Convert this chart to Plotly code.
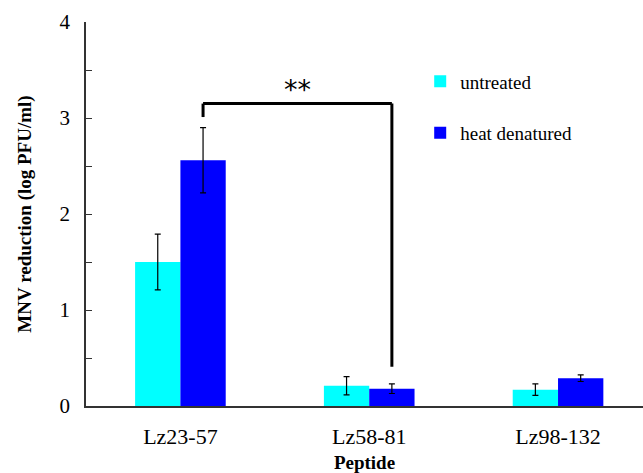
import plotly.graph_objects as go

categories = ["Lz23-57", "Lz58-81", "Lz98-132"]
untreated = [1.50, 0.21, 0.17]
untreated_err = [0.29, 0.095, 0.06]
heat = [2.56, 0.18, 0.29]
heat_err = [0.34, 0.05, 0.035]
y_ticks = [0, 1, 2, 3, 4]

# significance bracket between heat-denatured Lz23-57 and Lz58-81
bracket_top = 3.15
bracket_left_end = 3.01
bracket_right_end = 0.41
sig_label = "**"

SERIF = "Liberation Serif, Times New Roman, serif"
bargap = 0.52
bar_w = (1 - bargap) / 2

fig = go.Figure()
fig.add_trace(go.Bar(
    name="untreated", x=categories, y=untreated,
    marker=dict(color="#00FFFF", line=dict(width=0)),
    error_y=dict(type="data", array=untreated_err, color="black", thickness=1.2, width=3),
    legendgroup="a",
))
fig.add_trace(go.Bar(
    name="heat denatured", x=categories, y=heat,
    marker=dict(color="#0000FF", line=dict(width=0)),
    error_y=dict(type="data", array=heat_err, color="black", thickness=1.2, width=3),
    legendgroup="b",
))

x_left = 0 + bar_w / 2
x_right = 1 + bar_w / 2
line = dict(color="black", width=3)
fig.add_shape(type="line", xref="x", yref="y", x0=x_left, x1=x_left, y0=bracket_left_end, y1=bracket_top, line=line)
fig.add_shape(type="line", xref="x", yref="y", x0=x_left, x1=x_right, y0=bracket_top, y1=bracket_top, line=line)
fig.add_shape(type="line", xref="x", yref="y", x0=x_right, x1=x_right, y0=bracket_top, y1=bracket_right_end, line=line)
fig.add_annotation(x=(x_left + x_right) / 2, y=bracket_top, xref="x", yref="y",
                   text=sig_label, showarrow=False, yanchor="bottom", yshift=-3,
                   font=dict(family="DejaVu Sans", size=27, color="black"))

fig.update_layout(
    width=643, height=473,
    margin=dict(l=86, r=0, t=22, b=67),
    plot_bgcolor="white", paper_bgcolor="white",
    barmode="group", bargap=bargap, bargroupgap=0,
    font=dict(family=SERIF, color="black"),
    legend=dict(x=0.6, y=0.895, xanchor="left", yanchor="top",
                font=dict(family=SERIF, size=19, color="black"),
                tracegroupgap=24, itemwidth=30, bgcolor="rgba(0,0,0,0)"),
    xaxis=dict(range=[-0.5, 2.45], showline=True, linecolor="#333333", linewidth=1.5,
               ticks="", tickfont=dict(family=SERIF, size=22), ticklabelstandoff=10,
               title=dict(text="<b>Peptide</b>", font=dict(family=SERIF, size=19), standoff=9)),
    yaxis=dict(range=[0, 4], showline=True, linecolor="#333333", linewidth=1.5,
               showgrid=False, zeroline=False,
               tickvals=y_ticks, ticks="inside", ticklen=6, tickcolor="#333333",
               minor=dict(dtick=0.5, ticks="inside", ticklen=6, tickcolor="#333333", showgrid=False),
               tickfont=dict(family=SERIF, size=21), ticklabelstandoff=10,
               title=dict(text="<b>MNV reduction (log PFU/ml)</b>", font=dict(family=SERIF, size=19), standoff=23)),
)

fig.write_html("out.html")
